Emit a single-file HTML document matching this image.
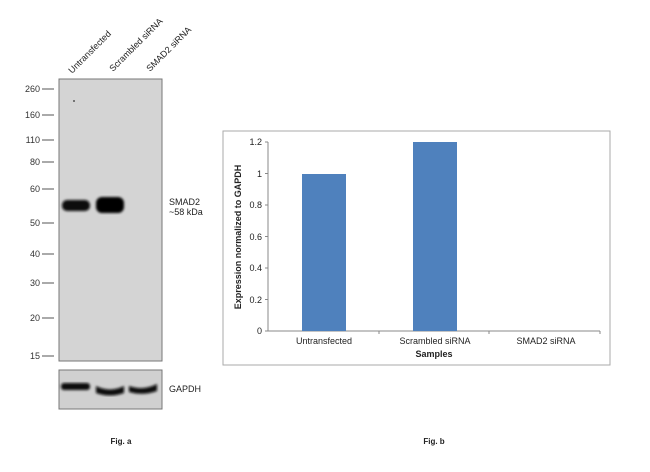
<!DOCTYPE html>
<html><head><style>
body{margin:0;background:#fff;width:650px;height:467px;overflow:hidden;font-family:"Liberation Sans",sans-serif;}
</style></head><body>
<svg width="650" height="467" xmlns="http://www.w3.org/2000/svg" font-family="Liberation Sans, sans-serif">
<defs>
<filter id="bl"><feGaussianBlur stdDeviation="1.3"/></filter>
</defs>
<!-- lane labels -->
<g font-size="9" fill="#222">
<text transform="translate(72,74) rotate(-45)">Untransfected</text>
<text transform="translate(113,72) rotate(-45)">Scrambled siRNA</text>
<text transform="translate(150,72) rotate(-45)">SMAD2 siRNA</text>
</g>
<!-- blot -->
<rect x="59" y="79" width="103" height="282" fill="#d4d4d4" stroke="#777" stroke-width="1"/>
<g filter="url(#bl)">
<rect x="62" y="200" width="28" height="11" rx="5" fill="#0a0a0a"/>
<rect x="96" y="197" width="28" height="16" rx="6" fill="#050505"/>
</g>
<circle cx="74" cy="101" r="1" fill="#555"/>
<!-- ladder -->
<g font-size="9" fill="#333" text-anchor="end">
<text x="40" y="92">260</text><text x="40" y="118">160</text><text x="40" y="143">110</text>
<text x="40" y="165">80</text><text x="40" y="192">60</text><text x="40" y="226">50</text>
<text x="40" y="257">40</text><text x="40" y="286">30</text><text x="40" y="321">20</text><text x="40" y="359">15</text>
</g>
<g stroke="#555" stroke-width="1">
<line x1="42" x2="54" y1="89" y2="89"/><line x1="42" x2="54" y1="115" y2="115"/><line x1="42" x2="54" y1="140" y2="140"/>
<line x1="42" x2="54" y1="162" y2="162"/><line x1="42" x2="54" y1="189" y2="189"/><line x1="42" x2="54" y1="223" y2="223"/>
<line x1="42" x2="54" y1="254" y2="254"/><line x1="42" x2="54" y1="283" y2="283"/><line x1="42" x2="54" y1="318" y2="318"/>
<line x1="42" x2="54" y1="356" y2="356"/>
</g>
<text x="169" y="205" font-size="9" fill="#222">SMAD2</text>
<text x="169" y="215" font-size="9" fill="#222">~58 kDa</text>
<!-- GAPDH -->
<rect x="59" y="370" width="103" height="39" fill="#d0d0d0" stroke="#777"/>
<g filter="url(#bl)" fill="#0a0a0a">
<rect x="61" y="383" width="29" height="7" rx="3"/>
<path d="M96 386 Q110 393 124 386 L124 393 Q110 398 96 393Z"/>
<path d="M129 386 Q143 391 157 384 L157 391 Q143 396 129 392Z"/>
</g>
<text x="169" y="392" font-size="9" fill="#222">GAPDH</text>
<text x="121" y="444" font-size="8" font-weight="bold" text-anchor="middle" fill="#222">Fig. a</text>
<!-- chart -->
<rect x="223" y="131" width="387" height="234" fill="#fff" stroke="#aaa"/>
<g stroke="#888" stroke-width="1">
<line x1="268" y1="142" x2="268" y2="331"/>
<line x1="268" y1="331" x2="600" y2="331"/>
<line x1="265" y1="142" x2="268" y2="142"/><line x1="265" y1="173.5" x2="268" y2="173.5"/>
<line x1="265" y1="205" x2="268" y2="205"/><line x1="265" y1="236.5" x2="268" y2="236.5"/>
<line x1="265" y1="268" x2="268" y2="268"/><line x1="265" y1="299.5" x2="268" y2="299.5"/>
<line x1="265" y1="331" x2="268" y2="331"/>
<line x1="379" y1="331" x2="379" y2="334"/><line x1="489" y1="331" x2="489" y2="334"/><line x1="600" y1="331" x2="600" y2="334"/>
</g>
<rect x="302" y="174" width="44" height="157" fill="#4f81bd"/>
<rect x="413" y="142" width="44" height="189" fill="#4f81bd"/>
<g font-size="9" fill="#222" text-anchor="end">
<text x="262" y="145">1.2</text><text x="262" y="177">1</text><text x="262" y="208">0.8</text>
<text x="262" y="240">0.6</text><text x="262" y="271">0.4</text><text x="262" y="303">0.2</text><text x="262" y="334">0</text>
</g>
<g font-size="9" fill="#222" text-anchor="middle">
<text x="324" y="344">Untransfected</text><text x="435" y="344">Scrambled siRNA</text><text x="546" y="344">SMAD2 siRNA</text>
</g>
<text x="434" y="357" font-size="9" font-weight="bold" text-anchor="middle" fill="#222">Samples</text>
<text transform="translate(241,237) rotate(-90)" font-size="9" font-weight="bold" text-anchor="middle" fill="#222">Expression normalized to GAPDH</text>
<text x="434" y="444" font-size="8" font-weight="bold" text-anchor="middle" fill="#222">Fig. b</text>
</svg>
</body></html>
